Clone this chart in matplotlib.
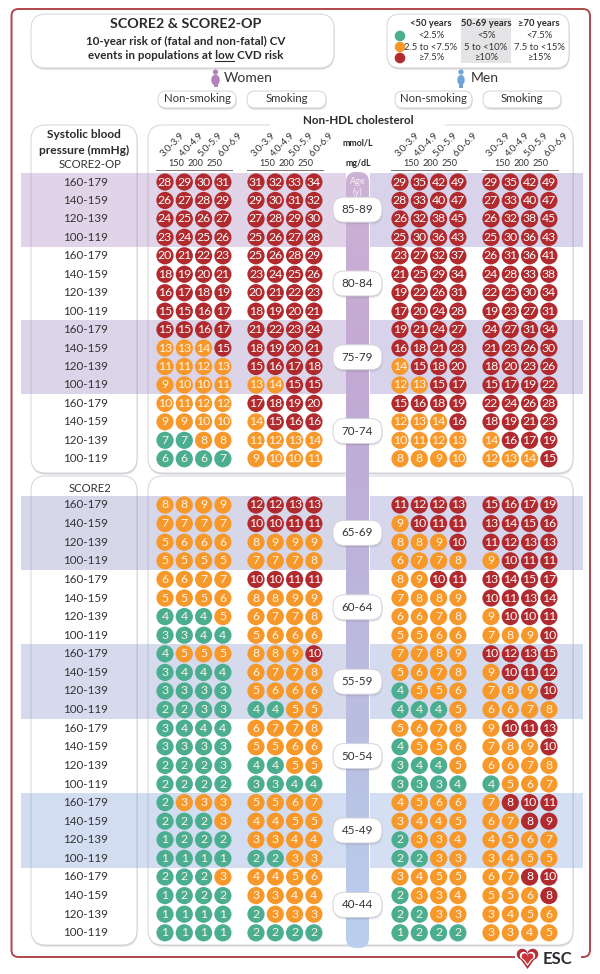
import numpy as np
import matplotlib
matplotlib.use("Agg")
import matplotlib.pyplot as plt
from matplotlib.patches import FancyBboxPatch, Circle, Ellipse, Rectangle
from matplotlib.colors import LinearSegmentedColormap

plt.rcParams['font.family'] = ['Lato', 'DejaVu Sans']

# ---------- data ----------
age_groups = ["85-89", "80-84", "75-79", "70-74", "65-69", "60-64", "55-59", "50-54", "45-49", "40-44"]
bp_labels = ["160-179", "140-159", "120-139", "100-119"]
chol_mmol = ["3.0-3.9", "4.0-4.9", "5.0-5.9", "6.0-6.9"]
chol_mg = ["150", "200", "250"]
# (orange from, red from) per age group, in per cent
age_thresholds = [(7.5, 15)] * 4 + [(5, 10)] * 4 + [(2.5, 7.5)] * 2

women_nonsmoking = [
    [28,29,30,31],[26,27,28,29],[24,25,26,27],[23,24,25,26],
    [20,21,22,23],[18,19,20,21],[16,17,18,19],[15,15,16,17],
    [15,15,16,17],[13,13,14,15],[11,11,12,13],[9,10,10,11],
    [10,11,12,12],[9,9,10,10],[7,7,8,8],[6,6,6,7],
    [8,8,9,9],[7,7,7,7],[5,6,6,6],[5,5,5,5],
    [6,6,7,7],[5,5,5,6],[4,4,4,5],[3,3,4,4],
    [4,5,5,5],[3,4,4,4],[3,3,3,3],[2,2,3,3],
    [3,4,4,4],[3,3,3,3],[2,2,2,3],[2,2,2,2],
    [2,3,3,3],[2,2,2,3],[1,2,2,2],[1,1,1,1],
    [2,2,2,3],[1,2,2,2],[1,1,1,1],[1,1,1,1]]
women_smoking = [
    [31,32,33,34],[29,30,31,32],[27,28,29,30],[25,26,27,28],
    [25,26,28,29],[23,24,25,26],[20,21,22,23],[18,19,20,21],
    [21,22,23,24],[18,19,20,21],[15,16,17,18],[13,14,15,15],
    [17,18,19,20],[14,15,16,16],[11,12,13,14],[9,10,10,11],
    [12,12,13,13],[10,10,11,11],[8,9,9,9],[7,7,7,8],
    [10,10,11,11],[8,8,9,9],[6,7,7,8],[5,6,6,6],
    [8,8,9,10],[6,7,7,8],[5,6,6,6],[4,4,5,5],
    [6,7,7,8],[5,5,6,6],[4,4,5,5],[3,3,4,4],
    [5,5,6,7],[4,4,5,5],[3,3,4,4],[2,2,3,3],
    [4,4,5,6],[3,3,4,4],[2,3,3,3],[2,2,2,2]]
men_nonsmoking = [
    [29,35,42,49],[28,33,40,47],[26,32,38,45],[25,30,36,43],
    [23,27,32,37],[21,25,29,34],[19,22,26,31],[17,20,24,28],
    [19,21,24,27],[16,18,21,23],[14,15,18,20],[12,13,15,17],
    [15,16,18,19],[12,13,14,16],[10,11,12,13],[8,8,9,10],
    [11,12,12,13],[9,10,11,11],[8,8,9,10],[6,7,7,8],
    [8,9,10,11],[7,8,8,9],[6,6,7,8],[5,5,6,6],
    [7,7,8,9],[5,6,7,8],[4,5,5,6],[4,4,4,5],
    [5,6,7,8],[4,5,5,6],[3,4,4,5],[3,3,3,4],
    [4,5,6,6],[3,4,4,5],[2,3,3,4],[2,2,3,3],
    [3,4,5,5],[2,3,3,4],[2,2,3,3],[1,2,2,2]]
men_smoking = [
    [29,35,42,49],[27,33,40,47],[26,32,38,45],[25,30,36,43],
    [26,31,36,41],[24,28,33,38],[22,25,30,34],[19,23,27,31],
    [24,27,31,34],[21,23,26,30],[18,20,23,26],[15,17,19,22],
    [22,24,26,28],[18,19,21,23],[14,16,17,19],[12,13,14,15],
    [15,16,17,19],[13,14,15,16],[11,12,13,13],[9,10,11,11],
    [13,14,15,17],[10,11,13,14],[9,10,10,11],[7,8,9,10],
    [10,12,13,15],[9,10,11,12],[7,8,9,10],[6,6,7,8],
    [9,10,11,13],[7,8,9,10],[6,6,7,8],[4,5,6,7],
    [7,8,10,11],[6,7,8,9],[4,5,6,7],[3,4,5,5],
    [6,7,8,10],[5,5,6,8],[3,4,5,6],[3,3,4,5]]
groups = [women_nonsmoking, women_smoking, men_nonsmoking, men_smoking]

legend_heads = ["<50 years", "50-69 years", "≥70 years"]
legend_rows = [["<2.5%", "2.5 to <7.5%", "≥7.5%"],
               ["<5%", "5 to <10%", "≥10%"],
               ["<7.5%", "7.5 to <15%", "≥15%"]]

# ---------- style ----------
GREEN, ORANGE, RED = "#4BAE90", "#F7982B", "#B02A2E"
TXT = "#2a2a2a"
group_x0 = [165.0, 256.0, 400.0, 491.0]
col_dx = 19.3
R = 8.6

fig = plt.figure(figsize=(6.0, 9.74), dpi=100)
ax = fig.add_axes([0, 0, 1, 1])
ax.set_xlim(0, 600)
ax.set_ylim(974, 0)
ax.axis("off")


def box(x0, y0, x1, y1, r, fc="white", z=1):
    for off, a in ((2.4, .06), (1.6, .10), (0.8, .14)):
        ax.add_patch(FancyBboxPatch((x0 + off * .3, y0 + off), x1 - x0, y1 - y0,
                                    boxstyle=f"round,pad=0,rounding_size={r}",
                                    fc="#55506a", ec="none", alpha=a, zorder=z))
    p = FancyBboxPatch((x0, y0), x1 - x0, y1 - y0, boxstyle=f"round,pad=0,rounding_size={r}",
                       fc=fc, ec="#D4D4DA", lw=.7, zorder=z + .01)
    ax.add_patch(p)
    return p


def T(x, y, s, size=8.5, **kw):
    kw.setdefault("color", TXT)
    kw.setdefault("ha", "center")
    kw.setdefault("va", "center")
    kw.setdefault("zorder", 8)
    return ax.text(x, y, s, fontsize=size, **kw)


# outer frame, broken behind the logo
ax.add_patch(FancyBboxPatch((11.5, 9), 578.5, 948, boxstyle="round,pad=0,rounding_size=7",
                            fc="white", ec="#B0474A", lw=1.4, zorder=0))
ax.add_patch(Rectangle((515, 950), 66, 16, fc="white", ec="none", zorder=0.5))

# title & legend panels
box(31, 14, 334, 68, 15, z=1)
T(186, 24, "SCORE2 & SCORE2-OP", 10.3, fontweight="bold")
T(186, 41.5, "10-year risk of (fatal and non-fatal) CV", 8.4, fontweight="bold")
line = T(186, 55.5, "events in populations at low CVD risk", 8.4, fontweight="bold")
fig.canvas.draw()
rend = fig.canvas.get_renderer()
full = line.get_window_extent(rend)
probe = T(0, 0, "events in populations at ", 8.4, fontweight="bold")
pw = probe.get_window_extent(rend).width
probe.remove()
probe = T(0, 0, "low", 8.4, fontweight="bold")
lw_ = probe.get_window_extent(rend).width
probe.remove()
ax.plot([full.x0 + pw, full.x0 + pw + lw_], [61, 61], color=TXT, lw=.8, zorder=8)

box(387, 14, 569, 68, 13, z=1)
ax.add_patch(Rectangle((461, 18), 50, 45, fc="#E4E4E6", ec="none", zorder=2))
for lx, head, rows in zip([431, 486, 539], legend_heads, legend_rows):
    T(lx, 24, head, 6.8, fontweight="bold")
    for ly, s in zip([36, 47, 58], rows):
        T(lx, ly, s, 6.8, color="#333333")
for ly, c in zip([36, 47, 58], [GREEN, ORANGE, RED]):
    ax.add_patch(Circle((400, ly), 5.3, fc=c, ec="none", zorder=4))

# sex headings with figure icons
for cx, col, kind in ((215.5, "#B581BC", "f"), (461, "#6FA4DA", "m")):
    ax.add_patch(Circle((cx, 72), 2.6, fc=col, ec="none", zorder=4))
    if kind == "f":
        ax.add_patch(Ellipse((cx, 80), 8.5, 11, fc=col, ec="none", zorder=4))
        ax.add_patch(Rectangle((cx - 2, 84), 4, 3, fc=col, ec="none", zorder=4))
    else:
        ax.add_patch(Ellipse((cx, 80), 7.5, 10, fc=col, ec="none", zorder=4))
        ax.add_patch(Rectangle((cx - 2.4, 82), 4.8, 5.5, fc=col, ec="none", zorder=4))
T(224, 78, "Women", 10, ha="left", color="#333333")
T(471, 78, "Men", 10, ha="left", color="#333333")

for x0, x1, s in ((158, 236, "Non-smoking"), (247, 326, "Smoking"), (395, 472, "Non-smoking"), (483, 561, "Smoking")):
    box(x0, 91, x1, 108, 8, z=1)
    T((x0 + x1) / 2, 99, s, 8.2, color="#333333")

# chart panels
box(31, 125, 137, 473, 15, z=1)
box(148, 125, 573, 473, 15, z=1)
box(31, 476, 137, 945, 15, z=1)
box(148, 476, 573, 945, 15, z=1)
ax.add_patch(Rectangle((270, 118), 175, 10, fc="white", ec="none", zorder=3))
T(358, 120, "Non-HDL cholesterol", 8.4, fontweight="bold")
T(84, 135, "Systolic blood", 8.6, fontweight="bold")
T(84, 150, "pressure (mmHg)", 8.6, fontweight="bold")
T(90, 164, "SCORE2-OP", 8.2, color="#333333")
T(90, 488, "SCORE2", 8.2, color="#333333")
T(358, 143, "mmol/L", 6.3, fontweight="bold")
T(358, 163, "mg/dL", 6.3, fontweight="bold")

# cholesterol axes
for x0 in group_x0:
    for i, s in enumerate(chol_mmol):
        T(x0 + i * col_dx + 7, 145, s, 6.8, rotation=45, color="#333333")
    for i, s in enumerate(chol_mg):
        T(x0 + 11 + i * col_dx, 163, s, 6.6, color="#333333")
    ax.plot([x0 - 9.5, x0 + 3 * col_dx + 9.5], [169.5, 169.5], color="#777777", lw=.7, zorder=3)

# row positions
row_y = []
for a in range(len(age_groups)):
    for b in range(len(bp_labels)):
        k = a * 4 + b
        row_y.append(182 + 18.45 * k if a < 4 else 505 + 18.6 * (k - 16))

# alternating age bands (left and right of the age bar)
band_colors = {0: ("#A27CB8", "#8677C0"), 2: ("#957CBA", "#8379C0"), 4: ("#8583BF", "#8285C6"),
               6: ("#7F8DC6", "#7F90CC"), 8: ("#7897D4", "#7A9CDA")}
for a, (cl, cr) in band_colors.items():
    top = row_y[a * 4] - 9.5
    bot = row_y[a * 4 + 3] + 9.5
    ax.add_patch(Rectangle((21, top), 325, bot - top, fc=cl, ec="none", alpha=.32, zorder=3))
    ax.add_patch(Rectangle((370, top), 213, bot - top, fc=cr, ec="none", alpha=.32, zorder=3))

# central age bar with vertical gradient
cmap = LinearSegmentedColormap.from_list("agebar", ["#CDB2D6", "#C2A9D2", "#BDB4DB", "#B9C0E2", "#BACFEE"])
im = ax.imshow(np.linspace(0, 1, 256)[:, None], cmap=cmap, extent=(346, 369, 948, 172),
               aspect="auto", zorder=3.5)
clip = FancyBboxPatch((346, 172), 23, 776, boxstyle="round,pad=0,rounding_size=10", fc="none", ec="none",
                      transform=ax.transData)
ax.add_patch(clip)
im.set_clip_path(clip)
ax.set_xlim(0, 600)
ax.set_ylim(974, 0)
T(357.5, 181, "Age", 6.6, color="#F4EAF6")
T(357.5, 192, "(y)", 6.6, color="#F4EAF6")

# age pills
for a, age in enumerate(age_groups):
    cy = (row_y[a * 4 + 1] + row_y[a * 4 + 2]) / 2
    box(333, cy - 12.5, 382, cy + 12.5, 11, z=5)
    T(357.5, cy, age, 8.4, color="#333333")

# rows: labels and risk dots
for k, y in enumerate(row_y):
    T(85, y, bp_labels[k % 4], 8.4, color="#333333")
    orange_from, red_from = age_thresholds[k // 4]
    for g, x0 in zip(groups, group_x0):
        for i, v in enumerate(g[k]):
            c = RED if v >= red_from else ORANGE if v >= orange_from else GREEN
            ax.add_patch(Circle((x0 + i * col_dx, y), R, fc=c, ec="none", zorder=6))
            T(x0 + i * col_dx, y, str(v), 8.8, color="white" if c == RED else "#FFF4E6")

# ESC logo: red heart, white ring, red core
def heart(cx, top, w, h, col, z):
    lobe = w / 4
    ax.add_patch(Circle((cx - lobe, top + lobe), lobe * 1.05, fc=col, ec="none", zorder=z))
    ax.add_patch(Circle((cx + lobe, top + lobe), lobe * 1.05, fc=col, ec="none", zorder=z))
    ax.fill([cx - 2 * lobe, cx + 2 * lobe, cx], [top + lobe, top + lobe, top + h], color=col, lw=0, zorder=z)


heart(527.5, 949, 21, 20, "#B0303A", 4)
heart(527.5, 952, 15, 14, "white", 5)
heart(527.5, 953.5, 11.5, 10.5, "#C8353F", 6)
ax.set_xlim(0, 600)
ax.set_ylim(974, 0)
T(558, 959, "ESC", 12, fontweight="bold", color="#2c2c30")

fig.savefig("out.png", dpi=100)
